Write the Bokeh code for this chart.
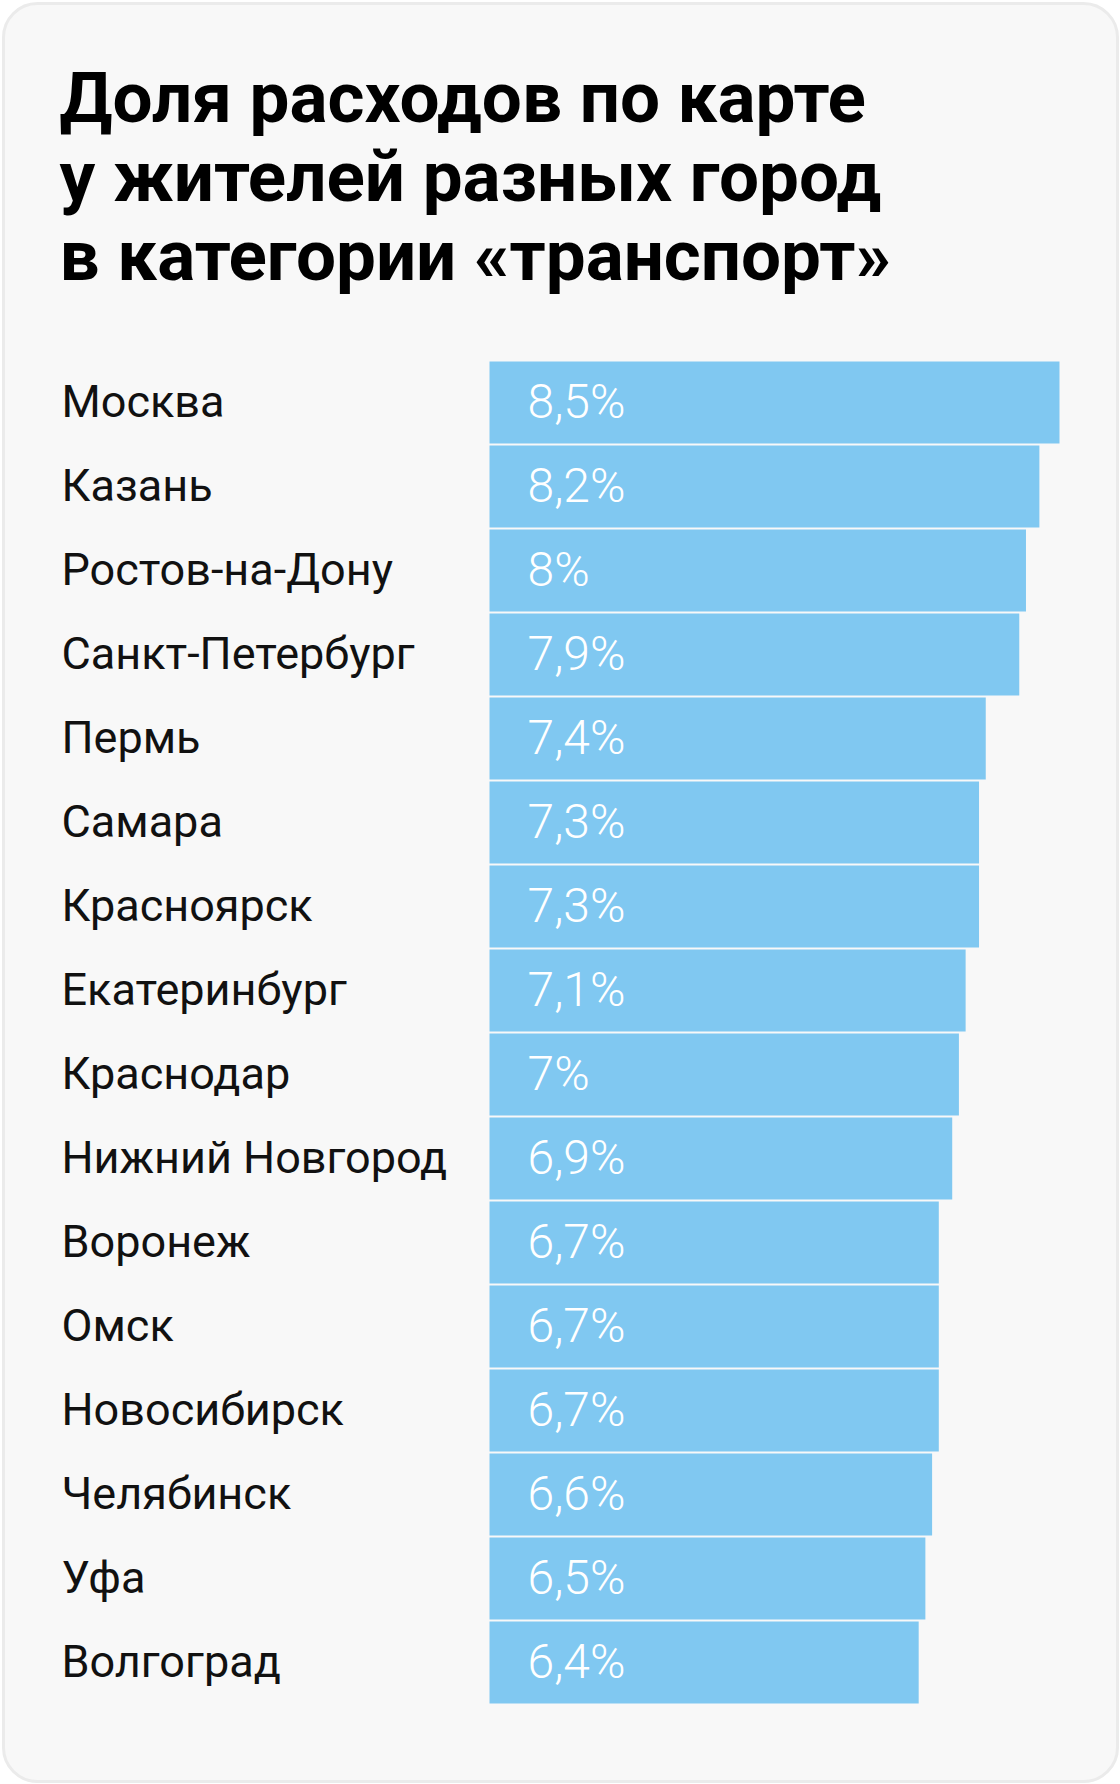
from bokeh.plotting import figure
from bokeh.models import Range1d, ColumnDataSource, Label, BoxAnnotation
from bokeh.core.properties import value
from bokeh.embed import file_html
from bokeh.resources import INLINE

cities = ["Москва", "Казань", "Ростов-на-Дону", "Санкт-Петербург", "Пермь", "Самара",
          "Красноярск", "Екатеринбург", "Краснодар", "Нижний Новгород", "Воронеж", "Омск",
          "Новосибирск", "Челябинск", "Уфа", "Волгоград"]
shares = [8.5, 8.2, 8.0, 7.9, 7.4, 7.3, 7.3, 7.1, 7.0, 6.9, 6.7, 6.7, 6.7, 6.6, 6.5, 6.4]
share_labels = ["8,5%", "8,2%", "8%", "7,9%", "7,4%", "7,3%", "7,3%", "7,1%", "7%", "6,9%",
                "6,7%", "6,7%", "6,7%", "6,6%", "6,5%", "6,4%"]
title_lines = ["Доля расходов по карте", "у жителей разных город", "в категории «транспорт»"]

W, H = 1120, 1784
X0 = 489.0          # pixel of value 0
PX_PER_UNIT = 67.06
BAND = 84.0
FIRST_CENTER = 402.0

x_range = Range1d(-X0 / PX_PER_UNIT, (W - X0) / PX_PER_UNIT)
y_range = Range1d((H - FIRST_CENTER) / BAND, -FIRST_CENTER / BAND)

p = figure(width=W, height=H, x_range=x_range, y_range=y_range,
           output_backend="svg", toolbar_location=None, min_border=0)
p.axis.visible = False
p.grid.visible = False
p.outline_line_color = None
p.background_fill_color = "white"
p.border_fill_color = "white"

card = BoxAnnotation(left=3, right=1117, top=H - 3, bottom=H - 1781,
                     left_units="screen", right_units="screen",
                     top_units="screen", bottom_units="screen",
                     fill_color="#f8f8f8", fill_alpha=1.0,
                     line_color="#ebebeb", line_width=3, line_alpha=1.0,
                     border_radius=34, level="underlay")
p.add_layout(card)

src = ColumnDataSource(dict(idx=list(range(len(cities))), city=cities,
                            share=shares, lab=share_labels,
                            zero=[0.0] * len(cities)))

p.hbar(y="idx", left="zero", right="share", height=82 / 84, source=src,
       fill_color="#80c8f1", line_color=None)

p.text(x="zero", y="idx", text="city", source=src, x_offset=-428, y_offset=-1,
       text_font=value("Roboto"), text_font_size="45px", text_color="#111111",
       text_align="left", text_baseline="middle")

p.text(x="zero", y="idx", text="lab", source=src, x_offset=38, y_offset=-1,
       text_font=value("Roboto Light, Roboto"), text_font_size="48px", text_color="white",
       text_font_style="normal", text_align="left", text_baseline="middle")

baselines = [97, 176, 255]
for line, b in zip(title_lines, baselines):
    p.add_layout(Label(x=59, y=H - b, x_units="screen", y_units="screen", text=line,
                       text_font="Roboto", text_font_style="bold", text_font_size="71px",
                       text_color="#000000", text_baseline="alphabetic", text_align="left"))

open("out.html", "w").write(file_html(p, INLINE))
